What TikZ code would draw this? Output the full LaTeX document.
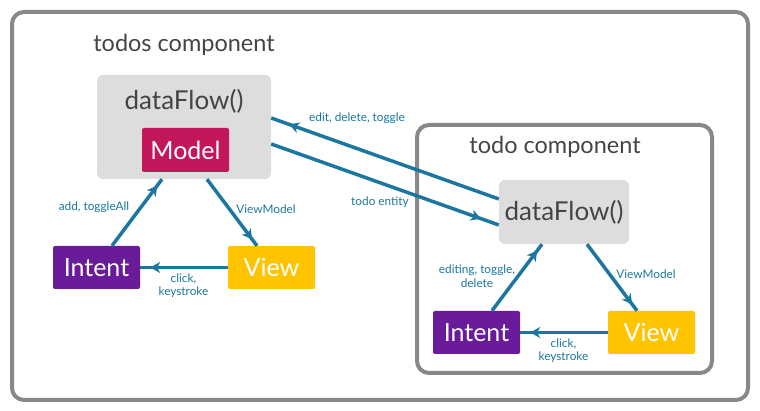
\documentclass[tikz,border=0pt]{standalone}
\usepackage{fontspec}
\setmainfont{Lato}
\usetikzlibrary{arrows.meta, positioning, decorations.markings}
\definecolor{flowBlue}{RGB}{27, 118, 160}
\definecolor{frameGray}{RGB}{136, 136, 136}
\definecolor{boxGray}{RGB}{221, 221, 221}
\definecolor{textGray}{RGB}{68, 68, 68}
\definecolor{modelRed}{RGB}{194, 24, 91}
\definecolor{intentPurple}{RGB}{106, 27, 154}
\definecolor{viewAmber}{RGB}{255, 196, 0}
\tikzset{
    frame/.style={draw=frameGray, line width=4pt, rounded corners=12pt},
    dfbox/.style={fill=boxGray, rounded corners=6pt, inner sep=0pt},
    block/.style={rounded corners=2pt, text=white, font=\fontsize{25}{28}\selectfont,
                  minimum width=87pt, minimum height=43pt, inner sep=0pt},
    title/.style={text=textGray, font=\fontsize{23.5}{28}\selectfont},
    flowlabel/.style={text=flowBlue, font=\fontsize{11.8}{13.5}\selectfont, align=center},
    flow/.style={draw=flowBlue, line width=3.5pt, postaction={decorate},
                 decoration={markings, mark=at position -#1 with
                 {\arrow[flowBlue]{Stealth[length=10pt, width=11pt, inset=3pt]}}}},
    flow/.default=8pt
}
\begin{document}
\begin{tikzpicture}[x=1pt, y=1pt]
    \useasboundingbox (0,0) rectangle (760,411);

    % Draw the outer frame of the todos component
    \draw[frame] (12,399) rectangle (748,11);
    \node[title] (todosTitle) at (184,366) {todos component};

    \node[dfbox, minimum width=174pt, minimum height=104pt] (dfA) at (184,284) {};
    \node[title, font=\fontsize{26}{30}\selectfont] (dfAtext) at (184,310) {dataFlow()};
    \node[block, fill=modelRed, minimum height=44pt] (modelA) at (185.5,261) {Model};
    \node[block, fill=intentPurple] (intA) at (96.5,143.5) {Intent};
    \node[block, fill=viewAmber] (viewA) at (271.5,143.5) {View};

    % Draw the inner frame of the todo component
    \draw[frame] (417,286) rectangle (712,38);
    \node[title] (todoTitle) at (555,264) {todo component};

    \node[dfbox, minimum width=130pt, minimum height=64pt,
          title, font=\fontsize{26}{30}\selectfont] (dfB) at (564,199) {dataFlow()};
    \node[block, fill=intentPurple] (intB) at (476.5,78.5) {Intent};
    \node[block, fill=viewAmber] (viewB) at (651.5,78.5) {View};

    % Cycle inside todos component
    \draw[flow] ([xshift=15.5pt]intA.north) -- ([xshift=-22pt]dfA.south);
    \draw[flow] ([xshift=23pt]dfA.south) -- ([xshift=-14.5pt]viewA.north);
    \draw[flow=10pt] (viewA.west) -- (intA.east);
    \node[flowlabel] (lblAddA) at (94,204) {add, toggleAll};
    \node[flowlabel] (lblVmA) at (266,202) {ViewModel};
    \node[flowlabel] (lblClickA) at (183.5,125.5) {click,\\keystroke};

    % Cycle inside todo component
    \draw[flow] ([xshift=15.5pt]intB.north) -- ([xshift=-22pt]dfB.south);
    \draw[flow] ([xshift=23pt]dfB.south) -- ([xshift=-14.5pt]viewB.north);
    \draw[flow=10pt] (viewB.west) -- (intB.east);
    \node[flowlabel] (lblEditB) at (477,135) {editing, toggle,\\delete};
    \node[flowlabel] (lblVmB) at (646,137) {ViewModel};
    \node[flowlabel] (lblClickB) at (563.5,60.5) {click,\\keystroke};

    % Between the two components
    \draw[flow=19pt] ([yshift=13pt]dfB.west) -- ([yshift=9pt]dfA.east);
    \draw[flow=19pt] ([yshift=-17pt]dfA.east) -- ([yshift=-13pt]dfB.west);
    \node[flowlabel] (lblEdit) at (357,293) {edit, delete, toggle};
    \node[flowlabel] (lblEntity) at (380,209) {todo entity};
\end{tikzpicture}
\end{document}
